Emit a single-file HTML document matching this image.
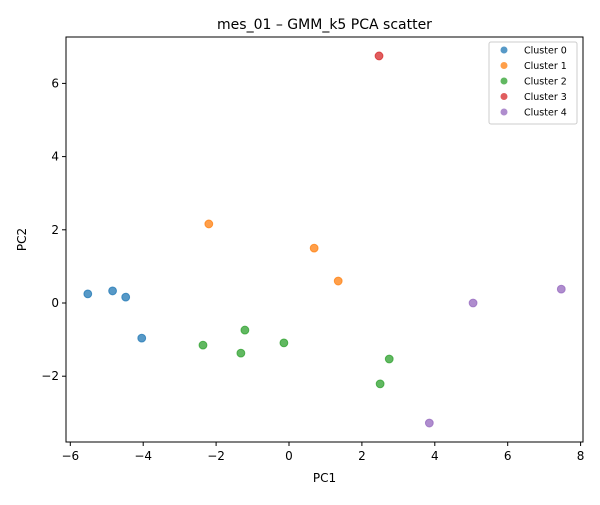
<!DOCTYPE html>
<html><head><meta charset="utf-8"><style>
body{margin:0;background:#fff;font-family:"Liberation Sans","DejaVu Sans",sans-serif}
svg text{font-family:"DejaVu Sans","Liberation Sans",sans-serif}
</style></head><body>
<svg id="chart" width="600" height="500"></svg>
<script>
const clusterNames=["Cluster 0","Cluster 1","Cluster 2","Cluster 3","Cluster 4"];
const colors=["#1f77b4","#ff7f0e","#2ca02c","#d62728","#9467bd"];
const pc1=[[-5.52,-4.84,-4.48,-4.04],[-2.2,0.69,1.35],[-1.21,-2.36,-1.32,-0.14,2.75,2.5],[2.47],[5.05,7.47,3.85]];
const pc2=[[0.25,0.33,0.16,-0.96],[2.16,1.5,0.6],[-0.74,-1.15,-1.37,-1.09,-1.53,-2.21],[6.75],[0,0.38,-3.28]];
const xTicks=[-6,-4,-2,0,2,4,6,8];
const yTicks=[-2,0,2,4,6];
const L=66,R=583,T=37,B=442;
const xs=v=>289+v*36.45;
const ys=v=>303-v*36.6;
const svg=document.getElementById('chart');
const NS="http://www.w3.org/2000/svg";
function mk(tag,attrs,text){const e=document.createElementNS(NS,tag);for(const k in attrs)e.setAttribute(k,attrs[k]);if(text!==undefined)e.textContent=text;svg.appendChild(e);return e;}
let t=mk('text',{x:(L+R)/2,y:29,'text-anchor':'middle','font-size':14},'mes_01 – GMM_k5 PCA scatter');


xTicks.forEach(v=>{const x=xs(v);
 let l=mk('line',{x1:x,x2:x,y1:B,y2:B+4,stroke:'#000'});
 
 
 let tx=mk('text',{x:x,y:B+18,'text-anchor':'middle','font-size':12},v<0?'−'+(-v):v);
 
 });
yTicks.forEach(v=>{const y=ys(v);
 let l=mk('line',{x1:L-4,x2:L,y1:y,y2:y,stroke:'#000'});
 
 
 let tx=mk('text',{x:L-7,y:y+4,'text-anchor':'end','font-size':12},v<0?'−'+(-v):v);
 
 });
let xl=mk('text',{x:(L+R)/2,y:482,'text-anchor':'middle','font-size':12},'PC1');


let yl=mk('text',{x:26,y:(T+B)/2,'text-anchor':'middle','font-size':12,transform:`rotate(-90 26 ${(T+B)/2})`},'PC2');


pc1.forEach((arr,c)=>arr.forEach((v,i)=>{
 let p=mk('circle',{cx:xs(v),cy:ys(pc2[c][i]),r:3.9,fill:colors[c],'fill-opacity':0.75,stroke:colors[c],'stroke-opacity':0.75});
 
 }));
let fr=mk('rect',{x:L,y:T,width:R-L,height:B-T,fill:'none',stroke:'#000','stroke-width':1});


let lg=mk('rect',{x:489,y:42,width:88,height:82,rx:2,fill:'#fff','fill-opacity':0.8,stroke:'#ccc'});


clusterNames.forEach((n,c)=>{const y=50+c*15.5;
 let d=mk('circle',{cx:504,cy:y,r:3.5,fill:colors[c],'fill-opacity':0.75});
 
 
 let tx=mk('text',{x:524,y:y+3.5,'font-size':9.5},n);
 
 });
</script>
</body></html>
